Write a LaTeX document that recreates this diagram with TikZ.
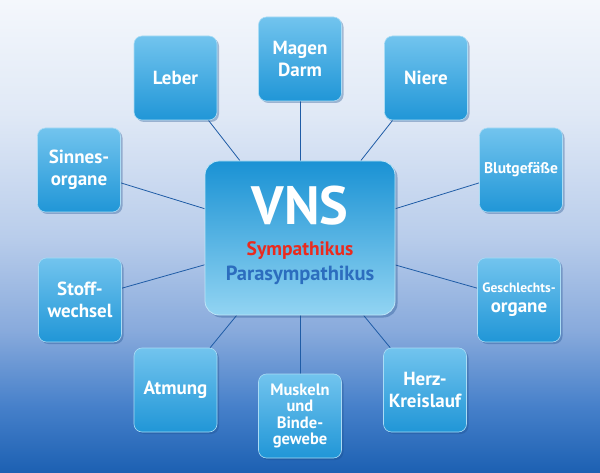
\documentclass[tikz,border=0pt]{standalone}
\usepackage{fontspec}
\setmainfont{PT Sans}
\usetikzlibrary{shadows,backgrounds}
\definecolor{bgT}{HTML}{F4F7FC}
\definecolor{bg1}{HTML}{E0E9F6}
\definecolor{bg2}{HTML}{B9CDEB}
\definecolor{bg3}{HTML}{88AADC}
\definecolor{bg4}{HTML}{4680CA}
\definecolor{bgB}{HTML}{1C60B2}
\definecolor{boxT}{HTML}{72C4EE}
\definecolor{boxB}{HTML}{2096D7}
\definecolor{vnsT}{HTML}{1A92D4}
\definecolor{vnsB}{HTML}{92D4F2}
\definecolor{linec}{HTML}{1F5CA6}
\definecolor{sympred}{HTML}{EA2A1E}
\definecolor{parablue}{HTML}{2C6DBE}
\definecolor{shadowc}{HTML}{1B4E8C}
\pgfdeclareverticalshading{bgshade}{100bp}{color(0bp)=(bgB); color(25bp)=(bgB); color(32bp)=(bg4); color(40bp)=(bg3); color(50bp)=(bg2); color(63bp)=(bg1); color(75bp)=(bgT); color(100bp)=(bgT)}
\begin{document}
\begin{tikzpicture}[x=1pt,y=-1pt,
  organ/.style={rounded corners=8pt, minimum width=83pt, minimum height=84pt,
    top color=boxT, bottom color=boxB, draw=boxT!60!white, line width=0.6pt,
    text=white, font=\bfseries\fontsize{19}{22}\selectfont, align=center,
    inner sep=0pt,
    drop shadow={shadow xshift=2pt, shadow yshift=-2pt, opacity=0.35, fill=shadowc}},
  hub/.style={rounded corners=14pt, minimum width=190pt, minimum height=154pt,
    top color=vnsT, bottom color=vnsB, draw=vnsB!60!white, line width=0.8pt,
    inner sep=0pt,
    drop shadow={shadow xshift=2.5pt, shadow yshift=-2.5pt, opacity=0.35, fill=shadowc}},
  conn/.style={draw=linec, line width=0.8pt},
  lbl/.style={anchor=base, inner sep=0pt, font=\bfseries}
]
\useasboundingbox (0,0) rectangle (600,473);

\node[hub] (vns) at (300,238) {};
\node[lbl, text=white, font=\bfseries\fontsize{54}{54}\selectfont] (vnst) at (300,225) {VNS};
\node[lbl, text=sympred, font=\bfseries\fontsize{19.5}{20}\selectfont] (symp) at (300,256) {Sympathikus};
\node[lbl, text=parablue, font=\bfseries\fontsize{20.5}{22}\selectfont] (para) at (300,280) {Parasympathikus};

\node[organ] (magen) at (300,59) {Magen\\Darm};
\node[organ] (leber) at (175.5,78) {Leber};
\node[organ] (niere) at (426,78) {Niere};
\node[organ] (sinnes) at (79,170) {Sinnes-\\organe};
\node[organ, font=\bfseries\fontsize{15.5}{18}\selectfont] (blut) at (521,170) {Blutgefäße};
\node[organ] (stoff) at (80,300) {Stoff-\\wechsel};
\node[organ] (geschl) at (519,300) {{\fontsize{13.5}{15}\selectfont Geschlechts-}\\[-2pt]organe};
\node[organ] (atmung) at (175.5,390) {Atmung};
\node[organ] (herz) at (425,390) {Herz-\\Kreislauf};
\node[organ, font=\bfseries\fontsize{16.5}{16.5}\selectfont] (muskeln) at (300,416) {Muskeln\\und\\Binde-\\gewebe};

\begin{pgfonlayer}{background}
\shade[shading=bgshade] (0,0) rectangle (600,473);
\foreach \n in {magen,leber,niere,sinnes,blut,stoff,geschl,atmung,herz,muskeln}
  \draw[conn] (\n) -- (vns);
\end{pgfonlayer}
\end{tikzpicture}
\end{document}
